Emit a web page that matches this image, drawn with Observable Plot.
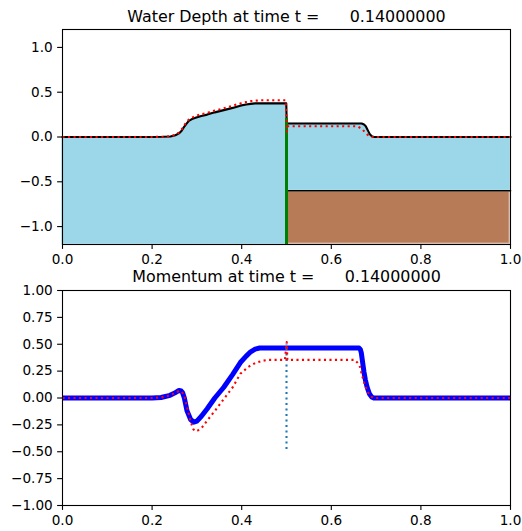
<!DOCTYPE html>
<html><head><meta charset="utf-8">
<script src="https://cdn.jsdelivr.net/npm/d3@7"></script>
<script src="https://cdn.jsdelivr.net/npm/@observablehq/plot@0.6"></script>
<style>
html,body{margin:0;padding:0;background:#fff;}
#chart{width:522px;height:531px;overflow:hidden;}
#chart svg{display:block;}
svg text{white-space:pre;}
</style></head><body><div id="chart"></div>
<script>
// ---- labels ----
const timeLabel = "0.14000000";
const depthTitle = "Water Depth at time t =      " + timeLabel;
const momentumTitle = "Momentum at time t =      " + timeLabel;
const xTicks = [0, 0.2, 0.4, 0.6, 0.8, 1.0];
const depthTicks = [-1, -0.5, 0, 0.5, 1];
const momentumTicks = [-1, -0.75, -0.5, -0.25, 0, 0.25, 0.5, 0.75, 1];
const depthDomain = [-1.2, 1.2];
const momentumDomain = [-1, 1];

// ---- bathymetry ----
const bedStepX = 0.5;
const bedLeft = -1.2;
const bedRight = -0.6;
const gateX = 0.5;
const gateTop = 0.21;

// ---- surface elevation: numerical (black) ----
const etaNumX = [0, 0.2, 0.225, 0.241, 0.252, 0.26, 0.266, 0.271, 0.277, 0.282, 0.289, 0.297, 0.31, 0.323, 0.34, 0.36, 0.38, 0.397, 0.41, 0.42, 0.43, 0.4995, 0.5005, 0.6, 0.668, 0.673, 0.677, 0.68, 0.683, 0.686, 0.69, 0.695, 0.75, 1.0];
const etaNumY = [0, 0, 0.002, 0.006, 0.02, 0.04, 0.07, 0.11, 0.15, 0.18, 0.2, 0.215, 0.235, 0.25, 0.275, 0.30, 0.325, 0.35, 0.362, 0.37, 0.375, 0.375, 0.15, 0.15, 0.15, 0.14, 0.12, 0.09, 0.06, 0.03, 0.01, 0, 0, 0];

// ---- surface elevation: reference (red dotted) ----
const etaRefX = [0, 0.2, 0.225, 0.241, 0.252, 0.26, 0.266, 0.271, 0.277, 0.282, 0.289, 0.297, 0.31, 0.323, 0.34, 0.36, 0.38, 0.397, 0.41, 0.42, 0.44, 0.498, 0.4995, 0.501, 0.503, 0.55, 0.655, 0.66, 0.665, 0.67, 0.675, 0.68, 0.685, 0.69, 0.695, 0.75, 1.0];
const etaRefY = [0, 0, 0.003, 0.008, 0.025, 0.05, 0.085, 0.125, 0.165, 0.195, 0.215, 0.235, 0.255, 0.27, 0.295, 0.32, 0.35, 0.375, 0.39, 0.4, 0.41, 0.41, 0.25, 0.06, 0.12, 0.12, 0.12, 0.115, 0.1, 0.08, 0.055, 0.03, 0.012, 0.003, 0, 0, 0];

// ---- momentum: numerical (blue) ----
const huNumX = [0, 0.2, 0.22, 0.24, 0.252, 0.26, 0.265, 0.268, 0.272, 0.278, 0.286, 0.293, 0.3, 0.31, 0.323, 0.34, 0.36, 0.38, 0.397, 0.41, 0.42, 0.43, 0.44, 0.5, 0.6, 0.662, 0.665, 0.667, 0.669, 0.671, 0.673, 0.676, 0.68, 0.685, 0.69, 0.695, 0.75, 1.0];
const huNumY = [0, 0, 0.005, 0.025, 0.05, 0.07, 0.065, 0.05, 0.0, -0.12, -0.2, -0.225, -0.215, -0.17, -0.1, 0.0, 0.1, 0.22, 0.33, 0.39, 0.43, 0.455, 0.465, 0.465, 0.465, 0.465, 0.45, 0.42, 0.36, 0.3, 0.24, 0.17, 0.1, 0.04, 0.01, 0, 0, 0];

// ---- momentum: reference (red dotted) ----
const huRefX = [0, 0.2, 0.22, 0.24, 0.252, 0.26, 0.266, 0.272, 0.279, 0.286, 0.292, 0.297, 0.303, 0.312, 0.323, 0.34, 0.36, 0.38, 0.397, 0.415, 0.43, 0.445, 0.46, 0.4965, 0.498, 0.4995, 0.5005, 0.502, 0.55, 0.652, 0.658, 0.664, 0.668, 0.672, 0.676, 0.68, 0.685, 0.69, 0.695, 0.75, 1.0];
const huRefY = [0, 0, 0.005, 0.025, 0.05, 0.065, 0.06, 0.02, -0.1, -0.22, -0.29, -0.31, -0.3, -0.27, -0.21, -0.12, -0.01, 0.1, 0.225, 0.29, 0.325, 0.345, 0.355, 0.355, 0.42, 0.47, 0.52, 0.355, 0.355, 0.355, 0.33, 0.29, 0.22, 0.16, 0.11, 0.07, 0.03, 0.01, 0, 0, 0];

// ---- interface marker (blue dotted) ----
const markerX = 0.5;
const markerY = [-0.48, 0.5];

// ---- build tables ----
const zip = (xs, ys) => xs.map((x, i) => ({x, y: ys[i]}));
const bed = x => (x < bedStepX ? bedLeft : bedRight);
const etaNum = zip(etaNumX, etaNumY);
const etaRef = zip(etaRefX, etaRefY);
const huNum = zip(huNumX, huNumY);
const huRef = zip(huRefX, huRefY);
const bedRect = [{x1: bedStepX, x2: 1, y1: bedLeft, y2: bedRight}];
const bedLine = [{x: bedStepX, y: bedRight}, {x: 1, y: bedRight}];

const minus = s => s.replace("-", "\u2212");
const fmt1 = d => minus(d.toFixed(1));
const fmt2 = d => minus(d.toFixed(2));

const common = {
  width: 522,
  marginLeft: 62,
  marginRight: 12,
  style: {fontFamily: "DejaVu Sans", fontSize: "13.6px", color: "black", background: "white", overflow: "visible"},
  x: {domain: [0, 1], label: null}
};
const tick = {tickSize: 4.9, tickPadding: 4.9, strokeWidth: 1.1};
const dotted = {strokeWidth: 2.1, strokeDasharray: "2.1,3.4", strokeLinecap: "butt"};

const topPlot = Plot.plot({
  ...common,
  height: 268,
  marginTop: 29,
  marginBottom: 24,
  y: {domain: depthDomain, label: null},
  marks: [
    Plot.areaY(etaNum, {x: "x", y1: d => bed(d.x), y2: "y", fill: "#9bd7e8", stroke: "#c6e9f3", strokeWidth: 1}),
    Plot.rect(bedRect, {x1: "x1", x2: "x2", y1: "y1", y2: "y2", fill: "#b87b57", stroke: "#dcc1b0", strokeWidth: 1.2, inset: 0.8}),
    Plot.line(bedLine, {x: "x", y: "y", stroke: "black", strokeWidth: 1.6}),
    Plot.line(etaNum, {x: "x", y: "y", stroke: "black", strokeWidth: 2.1}),
    Plot.ruleX([gateX], {x: d => d, y1: () => bedLeft, y2: () => gateTop, stroke: "green", strokeWidth: 3}),
    Plot.line(etaRef, {x: "x", y: "y", stroke: "red", ...dotted}),
    Plot.frame({stroke: "black", strokeWidth: 1.1}),
    Plot.axisX({ticks: xTicks, tickFormat: fmt1, ...tick}),
    Plot.axisY({ticks: depthTicks, tickFormat: fmt1, ...tick}),
    Plot.text([depthTitle], {text: d => d, frameAnchor: "top", lineAnchor: "bottom", dy: -8, fontSize: 15.9})
  ]
});

const bottomPlot = Plot.plot({
  ...common,
  height: 263,
  marginTop: 22,
  marginBottom: 26,
  y: {domain: momentumDomain, label: null},
  marks: [
    Plot.line(huNum, {x: "x", y: "y", stroke: "#0000ff", strokeWidth: 5, strokeLinecap: "butt"}),
    Plot.ruleX([markerX], {x: d => d, y1: () => markerY[0], y2: () => markerY[1], stroke: "#1f77b4", ...dotted}),
    Plot.line(huRef, {x: "x", y: "y", stroke: "red", ...dotted}),
    Plot.frame({stroke: "black", strokeWidth: 1.1}),
    Plot.axisX({ticks: xTicks, tickFormat: fmt1, ...tick}),
    Plot.axisY({ticks: momentumTicks, tickFormat: fmt2, ...tick}),
    Plot.text([momentumTitle], {text: d => d, frameAnchor: "top", lineAnchor: "bottom", dy: -9, fontSize: 15.9})
  ]
});

const chart = document.getElementById("chart");
chart.appendChild(topPlot);
chart.appendChild(bottomPlot);
</script>
</body></html>
